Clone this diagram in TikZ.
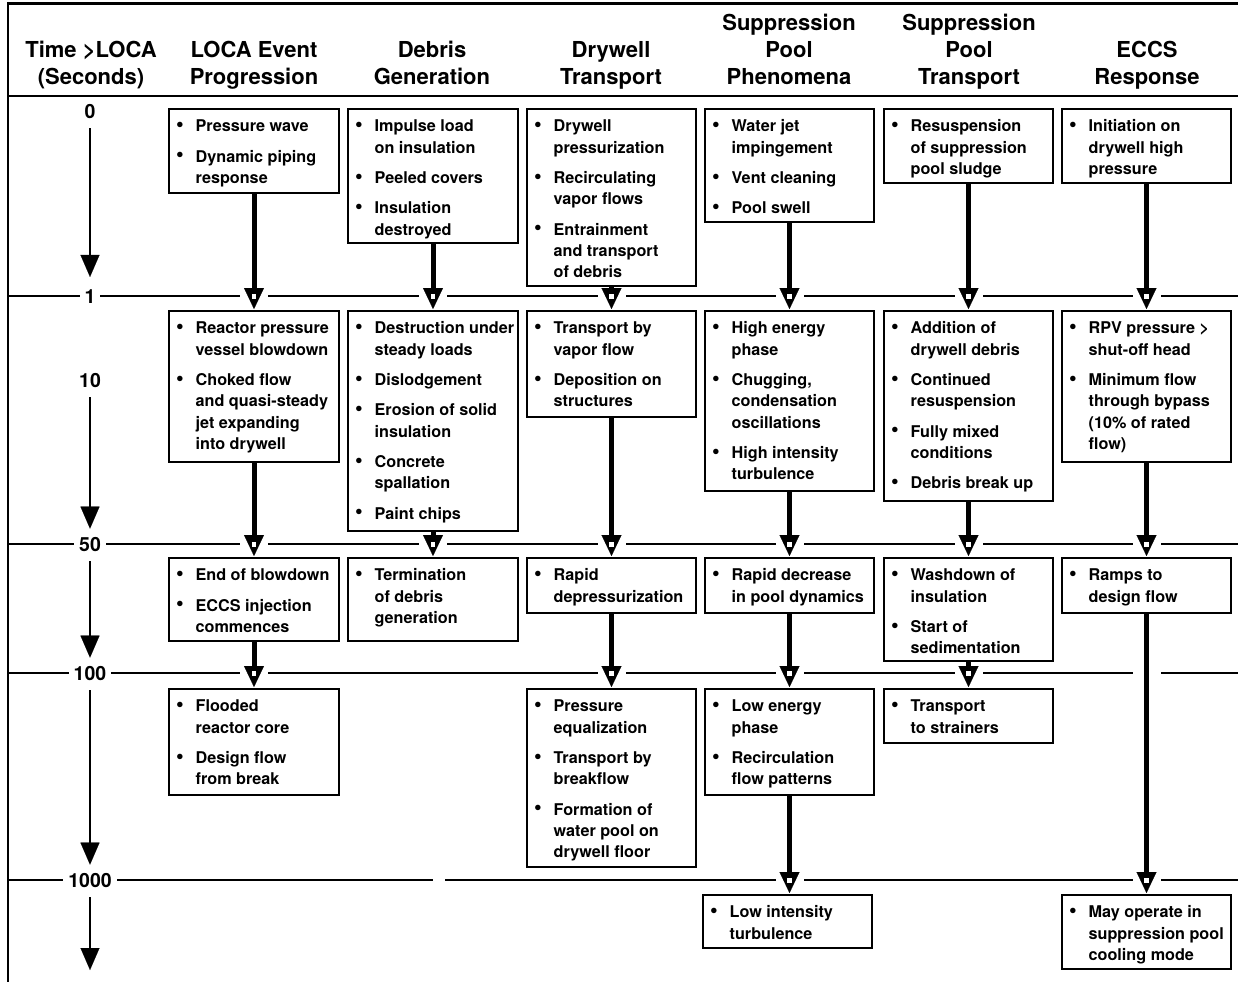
\documentclass[tikz,border=0pt]{standalone}
\usepackage{fontspec}
\setmainfont{TeX Gyre Heros}
\usetikzlibrary{arrows.meta,calc}
\newcommand\myblt{\raisebox{0.3pt}{\scalebox{1.35}{\textbullet}}}
\newcommand\cellbox[3]{\begin{minipage}[t][#2pt][t]{#1pt}\vspace*{8pt}\noindent\begin{tabular}[t]{@{\hspace*{7pt}}l@{\hspace*{12pt}}l@{}}#3\end{tabular}\end{minipage}}
\newcommand\hd[1]{\begin{tabular}[b]{@{}c@{}}#1\end{tabular}}
\newcommand\gapat[1]{\fill[white] ($(#1)+(-14,-3)$) rectangle ($(#1)+(14,3)$);}
\newcommand\flow[3]{%
  \coordinate (fx) at (#1.south |- 0,#3);
  \gapat{fx}
  \draw[shaft] (#1.south) -- (#1.south |- #2.north);
  \fill[white] ($(fx)+(-2.2,-2.5)$) rectangle ($(fx)+(2.2,2.5)$);}
\tikzset{
  ibox/.style={draw, line width=2pt, inner sep=0pt, anchor=north west,
    font=\fontsize{16.2}{21.3}\selectfont\bfseries},
  hdr/.style={anchor=base, inner sep=0pt, font=\fontsize{22}{26.5}\selectfont\bfseries},
  tlab/.style={anchor=base, fill=white, inner xsep=5pt, inner ysep=2pt,
    font=\fontsize{19.5}{22}\selectfont\bfseries},
  tline/.style={line width=2pt},
  tarrow/.style={line width=2.6pt, -{Triangle[length=22pt,width=19pt,line width=0.1pt]}},
  shaft/.style={line width=5pt, -{Triangle[length=21pt,width=20pt,line width=0.1pt]}, shorten >=1pt}
}
\begin{document}
\begin{tikzpicture}[x=1pt,y=-1pt]
\useasboundingbox (0,0) rectangle (1238,982);
% frame
\draw[line width=3.2pt] (7,3.5) -- (1238,3.5);
\draw[line width=2.5pt] (8,2) -- (8,982);
\draw[line width=2pt] (8,96) -- (1238,96);
% time lines
\draw[tline] (8,296) -- (1238,296);
\draw[tline] (8,544) -- (1238,544);
\draw[tline] (8,673) -- (1238,673);
\draw[tline] (8,880) -- (433,880);
\draw[tline] (445,880) -- (1238,880);
% headers
\node[hdr] (hT) at (91,84) {\hd{Time >LOCA\\(Seconds)}};
\node[hdr] (hL) at (254,84) {\hd{LOCA Event\\Progression}};
\node[hdr] (hD) at (432,84) {\hd{Debris\\Generation}};
\node[hdr] (hW) at (611,84) {\hd{Drywell\\Transport}};
\node[hdr] (hP) at (789,84) {\hd{Suppression\\Pool\\Phenomena}};
\node[hdr] (hS) at (969,84) {\hd{Suppression\\Pool\\Transport}};
\node[hdr] (hE) at (1147,84) {\hd{ECCS\\Response}};
% time labels
\node[tlab] (t0) at (90,118) {0};
\node[tlab] (t1) at (90,303) {1};
\node[tlab] (t10) at (90,387) {10};
\node[tlab] (t50) at (90,551) {50};
\node[tlab] (t100) at (90,680) {100};
\node[tlab] (t1000) at (90,887) {1000};
\coordinate (tend) at (90,970);
\draw[tarrow, shorten <=8pt, shorten >=10pt] (t0) -- (t1);
\draw[tarrow, shorten <=8pt, shorten >=6pt] (t10) -- (t50);
\draw[tarrow, shorten <=8pt, shorten >=6pt] (t50) -- (t100);
\draw[tarrow, shorten <=8pt, shorten >=6pt] (t100) -- (t1000);
\draw[tarrow, shorten <=8pt] (t1000) -- (tend);
% row 1
\node[ibox] (L1) at (168,108) {\cellbox{170}{84}{\myblt & Pressure wave\\[9pt] \myblt & Dynamic piping\\ & response}};
\node[ibox] (D1) at (347,108) {\cellbox{170}{134}{\myblt & Impulse load\\ & on insulation\\[9pt] \myblt & Peeled covers\\[9pt] \myblt & Insulation\\ & destroyed}};
\node[ibox] (W1) at (526,108) {\cellbox{169}{177}{\myblt & Drywell\\ & pressurization\\[9pt] \myblt & Recirculating\\ & vapor flows\\[9pt] \myblt & Entrainment\\ & and transport\\ & of debris}};
\node[ibox] (P1) at (704,108) {\cellbox{169}{113}{\myblt & Water jet\\ & impingement\\[9pt] \myblt & Vent cleaning\\[9pt] \myblt & Pool swell}};
\node[ibox] (T1) at (883,108) {\cellbox{169}{74}{\myblt & Resuspension\\ & of suppression\\ & pool sludge}};
\node[ibox] (E1) at (1061,108) {\cellbox{169}{74}{\myblt & Initiation on\\ & drywell high\\ & pressure}};
% row 2
\node[ibox] (L2) at (168,310) {\cellbox{170}{151}{\myblt & Reactor pressure\\ & vessel blowdown\\[9pt] \myblt & Choked flow\\ & and quasi-steady\\ & jet expanding\\ & into drywell}};
\node[ibox] (D2) at (347,310) {\cellbox{170}{220}{\myblt & Destruction under\\ & steady loads\\[9pt] \myblt & Dislodgement\\[9pt] \myblt & Erosion of solid\\ & insulation\\[9pt] \myblt & Concrete\\ & spallation\\[9pt] \myblt & Paint chips}};
\node[ibox] (W2) at (526,310) {\cellbox{169}{106}{\myblt & Transport by\\ & vapor flow\\[9pt] \myblt & Deposition on\\ & structures}};
\node[ibox] (P2) at (704,310) {\cellbox{169}{180}{\myblt & High energy\\ & phase\\[9pt] \myblt & Chugging,\\ & condensation\\ & oscillations\\[9pt] \myblt & High intensity\\ & turbulence}};
\node[ibox] (T2) at (883,310) {\cellbox{169}{190}{\myblt & Addition of\\ & drywell debris\\[9pt] \myblt & Continued\\ & resuspension\\[9pt] \myblt & Fully mixed\\ & conditions\\[9pt] \myblt & Debris break up}};
\node[ibox] (E2) at (1061,310) {\cellbox{169}{151}{\myblt & RPV pressure >\\ & shut-off head\\[9pt] \myblt & Minimum flow\\ & through bypass\\ & (10\% of rated\\ & flow)}};
% row 3
\node[ibox] (L3) at (168,557) {\cellbox{170}{83}{\myblt & End of blowdown\\[9pt] \myblt & ECCS injection\\ & commences}};
\node[ibox] (D3) at (347,557) {\cellbox{170}{83}{\myblt & Termination\\ & of debris\\ & generation}};
\node[ibox] (W3) at (526,557) {\cellbox{169}{55}{\myblt & Rapid\\ & depressurization}};
\node[ibox] (P3) at (704,557) {\cellbox{169}{55}{\myblt & Rapid decrease\\ & in pool dynamics}};
\node[ibox] (T3) at (883,557) {\cellbox{169}{103}{\myblt & Washdown of\\ & insulation\\[9pt] \myblt & Start of\\ & sedimentation}};
\node[ibox] (E3) at (1061,557) {\cellbox{169}{55}{\myblt & Ramps to\\ & design flow}};
% row 4
\node[ibox] (L4) at (168,688) {\cellbox{170}{106}{\myblt & Flooded\\ & reactor core\\[9pt] \myblt & Design flow\\ & from break}};
\node[ibox] (W4) at (526,688) {\cellbox{169}{178}{\myblt & Pressure\\ & equalization\\[9pt] \myblt & Transport by\\ & breakflow\\[9pt] \myblt & Formation of\\ & water pool on\\ & drywell floor}};
\node[ibox] (P4) at (704,688) {\cellbox{169}{106}{\myblt & Low energy\\ & phase\\[9pt] \myblt & Recirculation\\ & flow patterns}};
\node[ibox] (T4) at (883,688) {\cellbox{169}{54}{\myblt & Transport\\ & to strainers}};
% row 5
\node[ibox] (P5) at (702,894) {\cellbox{169}{53}{\myblt & Low intensity\\ & turbulence}};
\node[ibox] (E5) at (1061,894) {\cellbox{169}{74}{\myblt & May operate in\\ & suppression pool\\ & cooling mode}};
% flows
\flow{L1}{L2}{296} \flow{D1}{D2}{296} \flow{W1}{W2}{296}
\flow{P1}{P2}{296} \flow{T1}{T2}{296} \flow{E1}{E2}{296}
\flow{L2}{L3}{544} \flow{D2}{D3}{544} \flow{W2}{W3}{544}
\flow{P2}{P3}{544} \flow{T2}{T3}{544} \flow{E2}{E3}{544}
\flow{L3}{L4}{673} \flow{W3}{W4}{673} \flow{P3}{P4}{673} \flow{T3}{T4}{673}
\coordinate (ex) at (E3.south |- 0,673);
\gapat{ex}
\flow{P4}{P5}{880} \flow{E3}{E5}{880}
\end{tikzpicture}
\end{document}
